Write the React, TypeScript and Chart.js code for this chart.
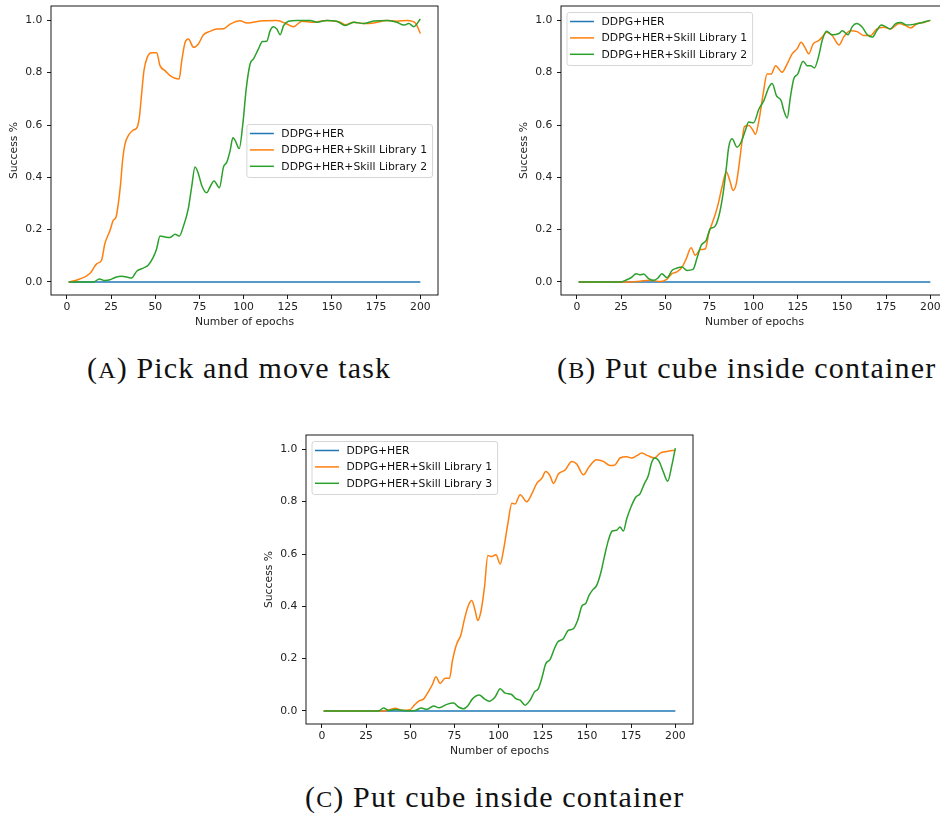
import React, { useEffect, useRef } from "react";
import { Chart, registerables } from "chart.js";

Chart.register(...registerables);

const FONT = '"DejaVu Sans", sans-serif';
const FS = 10.8;
const COLORS = ["#1f77b4", "#ff7f0e", "#2ca02c"];

const X_TICK_STEP = 25;
const Y_TICK_STEP = 0.2;

// ---- Baseline (all panels) ----
const BASE_EPOCHS = [1, 50, 100, 150, 200];
const BASE_VALUES = [0, 0, 0, 0, 0];

// ---- (A) Pick and move task ----
const A_L1_EPOCHS = [1, 7, 13, 17, 19.6, 21.5, 24.4, 26.2, 27.8, 29.1, 30.4, 31.5, 32.9, 34.8, 37.2, 39.8, 41, 42.3, 43.6, 45.5, 48, 50.8, 52.7, 55.5, 58.4, 61.2, 63.5, 65, 66.9, 68.8, 71.6, 74.4, 77.2, 81, 84.8, 88.6, 92.4, 98, 101.8, 111.2, 118.8, 124.5, 128.2, 133, 139.6, 147.1, 154.7, 157.5, 162.3, 167.9, 173.6, 181.2, 186.8, 192.5, 197.2, 200];
const A_L1_VALUES = [0, 0.01, 0.032, 0.07, 0.083, 0.147, 0.197, 0.235, 0.248, 0.3, 0.376, 0.464, 0.528, 0.56, 0.579, 0.592, 0.63, 0.72, 0.808, 0.859, 0.876, 0.876, 0.827, 0.808, 0.789, 0.779, 0.776, 0.846, 0.916, 0.929, 0.897, 0.91, 0.944, 0.958, 0.967, 0.968, 0.986, 0.999, 0.99, 0.999, 1.0, 0.986, 0.976, 0.997, 0.993, 1.0, 0.993, 0.983, 0.993, 0.988, 0.99, 1.0, 0.997, 1.0, 0.99, 0.95];
const A_L2_EPOCHS = [1, 15, 18.4, 21.5, 24.4, 27.2, 31, 33.8, 36.6, 39.5, 43.2, 46, 48.9, 50.8, 52.7, 55.5, 58.4, 61.2, 63.6, 65.8, 68.7, 70.6, 72.5, 74.4, 76.3, 79.1, 81, 83.3, 86.3, 88.6, 90.5, 92.4, 93.9, 95.2, 97.5, 99.5, 101.5, 103.7, 105.6, 108.4, 110.7, 113.1, 115, 116.9, 118.8, 120.7, 122.6, 125.4, 130.1, 137.7, 141.5, 147.1, 152.8, 157.5, 162.3, 167.9, 173.6, 181.2, 186.8, 190.6, 193.5, 196.3, 200];
const A_L2_VALUES = [0, 0, 0.011, 0.005, 0.008, 0.017, 0.022, 0.019, 0.015, 0.041, 0.053, 0.064, 0.095, 0.127, 0.176, 0.172, 0.17, 0.182, 0.175, 0.21, 0.28, 0.363, 0.439, 0.414, 0.369, 0.341, 0.363, 0.386, 0.36, 0.439, 0.458, 0.503, 0.551, 0.541, 0.51, 0.6, 0.74, 0.834, 0.853, 0.891, 0.919, 0.92, 0.961, 0.976, 0.967, 0.945, 0.98, 0.997, 1.0, 1.0, 0.993, 1.0, 0.997, 0.98, 0.993, 0.988, 0.998, 1.0, 0.993, 0.982, 0.988, 0.976, 1.005];

// ---- (B) Put cube inside container ----
const B_L1_EPOCHS = [1, 30, 41.5, 47.2, 51, 53.8, 56.6, 59.5, 61.9, 64.6, 67, 69.9, 72.7, 74.6, 76.5, 78.4, 80.2, 82.1, 84.6, 86.5, 88.4, 90.2, 92.1, 93.5, 94.8, 97.3, 99.7, 101, 103, 105.4, 107.6, 110, 112.4, 116.1, 119, 121.8, 124.6, 126.9, 129, 131.2, 133.7, 136.9, 138.8, 141.3, 144.5, 148.3, 151.1, 154.9, 158.6, 162.4, 166.2, 169.6, 173.7, 177.5, 182.2, 186, 188.8, 192.6, 196.4, 200];
const B_L1_VALUES = [0, 0, 0.006, 0.002, 0.011, 0.032, 0.038, 0.057, 0.089, 0.131, 0.102, 0.124, 0.127, 0.185, 0.223, 0.261, 0.305, 0.363, 0.42, 0.388, 0.35, 0.376, 0.464, 0.541, 0.594, 0.598, 0.579, 0.564, 0.617, 0.719, 0.795, 0.795, 0.827, 0.802, 0.834, 0.872, 0.891, 0.916, 0.897, 0.872, 0.91, 0.923, 0.936, 0.955, 0.942, 0.906, 0.938, 0.96, 0.957, 0.942, 0.942, 0.967, 0.974, 0.967, 0.988, 0.98, 0.971, 0.988, 0.992, 1.0];
const B_L2_EPOCHS = [1, 25, 27.4, 30.6, 33.6, 35.9, 37.7, 40.6, 43.4, 45.7, 48.1, 51, 53.8, 56.3, 59.5, 62.3, 65.7, 68, 70.3, 73.2, 75.5, 77.8, 80.2, 82.7, 84.6, 85.9, 87.8, 90.6, 92.9, 95.3, 97.2, 100, 103, 105.8, 108.6, 110.5, 112.9, 115.6, 117.1, 119, 120.8, 122.7, 125, 128, 130.3, 132.2, 134.4, 136.9, 138.8, 141.3, 144.5, 148.3, 150.2, 153.4, 155.8, 158.3, 161.5, 164.3, 167.2, 169.6, 172.3, 174.7, 177.2, 180.4, 183.2, 187, 190.8, 195.5, 200];
const B_L2_VALUES = [0, 0, 0.006, 0.016, 0.031, 0.027, 0.03, 0.013, 0.006, 0.014, 0.031, 0.016, 0.044, 0.052, 0.057, 0.044, 0.048, 0.092, 0.14, 0.159, 0.204, 0.21, 0.248, 0.337, 0.439, 0.515, 0.547, 0.515, 0.534, 0.579, 0.611, 0.609, 0.661, 0.693, 0.744, 0.759, 0.712, 0.693, 0.655, 0.627, 0.706, 0.776, 0.795, 0.844, 0.827, 0.827, 0.818, 0.866, 0.923, 0.958, 0.945, 0.95, 0.96, 0.945, 0.976, 0.988, 0.974, 0.945, 0.936, 0.96, 0.982, 0.976, 0.967, 0.988, 0.992, 0.982, 0.985, 0.992, 1.0];

// ---- (C) Put cube inside container ----
const C_L1_EPOCHS = [1, 34.9, 38.7, 41.5, 45.2, 49.9, 52.4, 55, 57.5, 60.3, 62.6, 64.5, 66.9, 69.7, 72.2, 73.9, 76.3, 78.6, 80.7, 82.9, 84.8, 86.7, 88.2, 90.1, 92, 93.9, 96.1, 98.5, 100.9, 102.7, 105.2, 107.5, 109.3, 112.2, 115.9, 119.2, 121.6, 124.4, 126.7, 129.1, 131, 133.8, 137.6, 141.4, 144.2, 148, 151.2, 155.5, 159.3, 163.1, 165.9, 168.7, 172.5, 175.3, 178.2, 181, 184.4, 188.1, 191.4, 195.1, 200];
const C_L1_VALUES = [0, 0, 0.005, 0.01, 0.003, 0.005, 0.023, 0.038, 0.045, 0.074, 0.102, 0.131, 0.105, 0.125, 0.125, 0.193, 0.257, 0.289, 0.352, 0.403, 0.422, 0.384, 0.346, 0.384, 0.473, 0.594, 0.59, 0.597, 0.562, 0.613, 0.715, 0.794, 0.791, 0.827, 0.8, 0.836, 0.87, 0.889, 0.915, 0.899, 0.87, 0.906, 0.921, 0.954, 0.944, 0.903, 0.934, 0.96, 0.954, 0.938, 0.941, 0.967, 0.972, 0.967, 0.976, 0.986, 0.976, 0.967, 0.986, 0.992, 0.997];
const C_L3_EPOCHS = [1, 32, 34.9, 37.7, 41.5, 49, 52.8, 56.2, 59.4, 63.2, 66.4, 70.7, 74.5, 77.3, 80.1, 82.6, 85.2, 89, 92, 94.6, 98, 100.9, 103.7, 107.1, 109.7, 112.2, 115, 117.8, 120.3, 122.5, 124.4, 126.7, 129.1, 131.5, 133.4, 136.6, 139.4, 142.2, 144.7, 147.3, 149.2, 151.1, 153, 155.5, 157.9, 159.8, 162.1, 164.3, 166.8, 168.7, 170.6, 172.5, 174.9, 177.6, 180, 182.5, 184.7, 186.6, 188.5, 190.8, 193.3, 195.7, 198, 200];
const C_L3_VALUES = [0, 0, 0.011, 0.002, 0.005, 0.001, 0.002, 0.011, 0.006, 0.019, 0.012, 0.025, 0.03, 0.015, 0.008, 0.02, 0.046, 0.061, 0.046, 0.037, 0.053, 0.085, 0.068, 0.064, 0.047, 0.041, 0.022, 0.041, 0.073, 0.085, 0.124, 0.181, 0.196, 0.237, 0.263, 0.276, 0.308, 0.314, 0.346, 0.403, 0.41, 0.441, 0.461, 0.48, 0.53, 0.588, 0.652, 0.688, 0.691, 0.703, 0.688, 0.735, 0.78, 0.817, 0.83, 0.869, 0.899, 0.95, 0.967, 0.954, 0.912, 0.878, 0.938, 1.005];

const LABEL_BASE = "DDPG+HER";
const LABEL_L1 = "DDPG+HER+Skill Library 1";
const LABEL_L2 = "DDPG+HER+Skill Library 2";
const LABEL_L3 = "DDPG+HER+Skill Library 3";

type Series = { label: string; x: number[]; y: number[] };

const framePlugin = {
  id: "frame",
  afterDatasetsDraw(chart: any) {
    const { ctx, chartArea: a } = chart;
    ctx.save();
    ctx.strokeStyle = "#000";
    ctx.lineWidth = 0.9;
    ctx.strokeRect(a.left, a.top, a.right - a.left, a.bottom - a.top);
    ctx.restore();
  },
};

const innerLegend = {
  id: "innerLegend",
  afterDraw(chart: any, _args: any, opts: any) {
    const { ctx, chartArea: a } = chart;
    const ds = chart.data.datasets;
    ctx.save();
    ctx.font = `${FS}px ${FONT}`;
    const tw = Math.max(...ds.map((d: any) => ctx.measureText(d.label).width));
    const w = 3.5 + 24 + 7.5 + tw + 5;
    const h = 53;
    let x: number, y: number;
    if (opts.loc === "center right") {
      x = a.right - 6 - w;
      y = (a.top + a.bottom) / 2 - h / 2;
    } else {
      x = a.left + 5.5;
      y = a.top + 6;
    }
    ctx.beginPath();
    ctx.roundRect(x + 0.5, y + 0.5, w, h, 2.5);
    ctx.fillStyle = "rgba(255,255,255,0.85)";
    ctx.fill();
    ctx.strokeStyle = "#d6d6d6";
    ctx.lineWidth = 1;
    ctx.stroke();
    ds.forEach((d: any, i: number) => {
      const cy = y + 9.5 + i * 16.4;
      ctx.beginPath();
      ctx.moveTo(x + 3.5, cy);
      ctx.lineTo(x + 27.5, cy);
      ctx.strokeStyle = d.borderColor;
      ctx.lineWidth = 1.5;
      ctx.stroke();
      ctx.fillStyle = "#111";
      ctx.textBaseline = "middle";
      ctx.textAlign = "left";
      ctx.fillText(d.label, x + 35, cy + 0.5);
    });
    ctx.restore();
  },
};

function Panel({ left, top, series, loc }: { left: number; top: number; series: Series[]; loc: string }) {
  const ref = useRef<HTMLCanvasElement | null>(null);
  useEffect(() => {
    if (!ref.current) return;
    const chart = new Chart(ref.current, {
      type: "line",
      data: {
        datasets: series.map((s, i) => ({
          label: s.label,
          data: s.x.map((x, j) => ({ x, y: s.y[j] })),
          borderColor: COLORS[i],
          backgroundColor: COLORS[i],
          borderWidth: 1.5,
          pointRadius: 0,
          fill: false,
          cubicInterpolationMode: "monotone",
          order: 3 - i,
        })),
      },
      options: {
        animation: false,
        responsive: false,
        events: [],
        layout: { padding: { top: 6, right: 12, left: 0, bottom: 0 } },
        plugins: {
          legend: { display: false },
          tooltip: { enabled: false },
          innerLegend: { loc },
        } as any,
        scales: {
          x: {
            type: "linear",
            min: -9,
            max: 210,
            afterFit: (s: any) => {
              s.height = 40;
              s.paddingLeft = 0;
              s.paddingRight = 0;
            },
            ticks: {
              stepSize: X_TICK_STEP,
              includeBounds: false,
              autoSkip: false,
              maxRotation: 0,
              color: "#222",
              font: { family: FONT, size: FS },
              padding: 2,
            },
            grid: { drawOnChartArea: false, drawTicks: true, tickLength: 4, tickColor: "#000", tickWidth: 0.9 },
            border: { display: false },
            title: { display: true, text: "Number of epochs", color: "#222", font: { family: FONT, size: FS }, padding: { top: 0, bottom: 6.5 } },
          },
          y: {
            type: "linear",
            min: -0.05,
            max: 1.055,
            afterFit: (s: any) => {
              s.width = 51;
              s.paddingTop = 0;
              s.paddingBottom = 0;
            },
            ticks: {
              stepSize: Y_TICK_STEP,
              includeBounds: false,
              color: "#222",
              font: { family: FONT, size: FS },
              padding: 4.7,
              callback: (v: any) => Number(v).toFixed(1),
            },
            grid: { drawOnChartArea: false, drawTicks: true, tickLength: 4, tickColor: "#000", tickWidth: 0.9 },
            border: { display: false },
            title: { display: true, text: "Success %", color: "#222", font: { family: FONT, size: FS }, padding: { top: 8.2, bottom: 0 } },
          },
        },
      } as any,
      plugins: [framePlugin, innerLegend],
    });
    return () => chart.destroy();
  }, []);
  return (
    <canvas
      ref={ref}
      width={450}
      height={335}
      style={{ position: "absolute", left, top, width: 450, height: 335 }}
    />
  );
}

const captionStyle: React.CSSProperties = {
  position: "absolute",
  fontFamily: '"Liberation Serif", "DejaVu Serif", serif',
  fontSize: 30,
  letterSpacing: "1.15px",
  lineHeight: "34px",
  whiteSpace: "nowrap",
  color: "#111",
};

export default function App() {
  const seriesA: Series[] = [
    { label: LABEL_BASE, x: BASE_EPOCHS, y: BASE_VALUES },
    { label: LABEL_L1, x: A_L1_EPOCHS, y: A_L1_VALUES },
    { label: LABEL_L2, x: A_L2_EPOCHS, y: A_L2_VALUES },
  ];
  const seriesB: Series[] = [
    { label: LABEL_BASE, x: BASE_EPOCHS, y: BASE_VALUES },
    { label: LABEL_L1, x: B_L1_EPOCHS, y: B_L1_VALUES },
    { label: LABEL_L2, x: B_L2_EPOCHS, y: B_L2_VALUES },
  ];
  const seriesC: Series[] = [
    { label: LABEL_BASE, x: BASE_EPOCHS, y: BASE_VALUES },
    { label: LABEL_L1, x: C_L1_EPOCHS, y: C_L1_VALUES },
    { label: LABEL_L3, x: C_L3_EPOCHS, y: C_L3_VALUES },
  ];
  return (
    <div style={{ position: "absolute", left: 0, top: 0, width: 940, height: 815, overflow: "hidden", background: "#fff" }}>
      <Panel left={0} top={0} series={seriesA} loc="center right" />
      <Panel left={510} top={0} series={seriesB} loc="upper left" />
      <Panel left={255} top={429} series={seriesC} loc="upper left" />
      <div style={{ ...captionStyle, left: 87, top: 351 }}>
        (<span style={{ fontSize: "0.8em" }}>A</span>) Pick and move task
      </div>
      <div style={{ ...captionStyle, left: 557, top: 351 }}>
        (<span style={{ fontSize: "0.8em" }}>B</span>) Put cube inside container
      </div>
      <div style={{ ...captionStyle, left: 305, top: 780 }}>
        (<span style={{ fontSize: "0.8em" }}>C</span>) Put cube inside container
      </div>
    </div>
  );
}
